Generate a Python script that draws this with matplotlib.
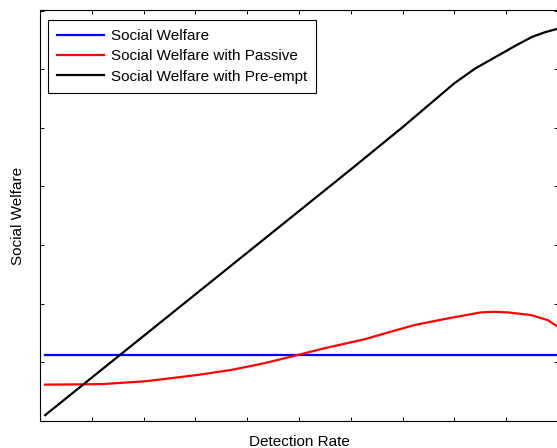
#!/usr/bin/python3
# -*- coding: utf-8 -*-
"""
    Social welfare vs detection rate (MATLAB style figure, no tick labels).
"""

import matplotlib
matplotlib.use("Agg")
import matplotlib.pyplot as plt

# Data (y in arbitrary units, 7 tick intervals)
x_preempt = [0.01, 0.10, 0.20, 0.30, 0.40, 0.50, 0.60, 0.70, 0.76, 0.80,
             0.84, 0.89, 0.92, 0.95, 0.975, 1.00]
y_preempt = [0.10, 0.74, 1.45, 2.16, 2.87, 3.58, 4.29, 5.01, 5.46, 5.76,
             6.01, 6.26, 6.41, 6.55, 6.63, 6.69]

x_passive = [0.01, 0.077, 0.122, 0.206, 0.303, 0.368, 0.432, 0.497, 0.548, 0.625,
             0.722, 0.787, 0.851, 0.877, 0.903, 0.948, 0.980, 1.00]
y_passive = [0.62, 0.625, 0.63, 0.68, 0.784, 0.869, 0.983, 1.124, 1.238, 1.391,
             1.635, 1.749, 1.852, 1.862, 1.852, 1.806, 1.721, 1.606]

x_welfare = [0.01, 1.00]
y_welfare = [1.124, 1.124]

labels = ["Social Welfare", "Social Welfare with Passive", "Social Welfare with Pre-empt"]

plt.rcParams['font.family'] = ['Liberation Sans', 'DejaVu Sans']

fig = plt.figure(figsize=(5.57, 4.48), dpi=100)
ax = fig.add_axes([40/557, 1 - 421/448, 518/557, 410.5/448])

ax.plot(x_welfare, y_welfare, color="#0000ff", lw=1.6, label=labels[0])
ax.plot(x_passive, y_passive, color="#ff0000", lw=1.6, label=labels[1])
ax.plot(x_preempt, y_preempt, color="black", lw=1.6, label=labels[2])

ax.set_xlim(0, 1)
ax.set_ylim(0, 7)
ax.set_xticks([i/10 for i in range(11)])
ax.set_yticks(range(8))
ax.tick_params(direction="in", length=3, width=0.7, top=True, right=True,
               labelbottom=False, labelleft=False)
for s in ax.spines.values():
    s.set_linewidth(0.8)

ax.set_xlabel("Detection Rate", fontsize=11, labelpad=10)
ax.set_ylabel("Social Welfare", fontsize=11, labelpad=11)

leg = ax.legend(loc="upper left", bbox_to_anchor=(8/517, 401.7/411), borderaxespad=0,
                fontsize=11, handlelength=3.07, handletextpad=0.45, labelspacing=0.42,
                borderpad=0.6, fancybox=False, framealpha=1, edgecolor="black")
leg.get_frame().set_linewidth(0.8)

fig.savefig("out.png", dpi=100)
